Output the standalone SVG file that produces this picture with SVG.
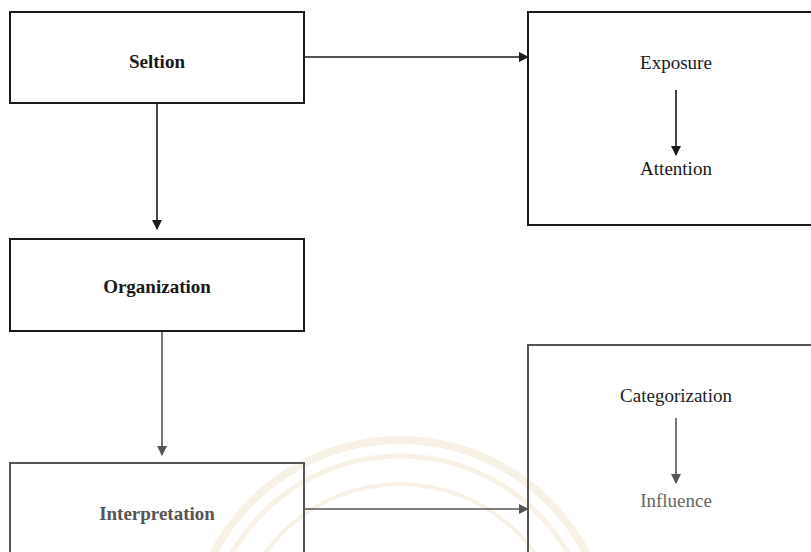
<svg xmlns="http://www.w3.org/2000/svg" width="811" height="552" viewBox="0 0 811 552">
<defs>
<style>
.box{fill:none;stroke:#1a1a1a;stroke-width:2}
.box2{fill:none;stroke:#555;stroke-width:2}
.ln{stroke:#1a1a1a;stroke-width:1.6;fill:none}
.ln2{stroke:#555;stroke-width:1.6;fill:none}
.tb{font-family:"Liberation Serif","Times New Roman",serif;font-weight:bold;font-size:19px;text-anchor:middle;fill:#1a1a1a}
.tr{font-family:"Liberation Serif","Times New Roman",serif;font-size:19px;text-anchor:middle;fill:#1a1a1a}
.wm{fill:none;stroke:#f8f1e5}
</style>
<marker id="ah" markerWidth="10" markerHeight="10" refX="9" refY="5" orient="auto" markerUnits="userSpaceOnUse"><path d="M0,0 L10,5 L0,10 Z" fill="#1a1a1a"/></marker>
<marker id="ah2" markerWidth="10" markerHeight="10" refX="9" refY="5" orient="auto" markerUnits="userSpaceOnUse"><path d="M0,0 L10,5 L0,10 Z" fill="#555"/></marker>
</defs>
<rect width="811" height="552" fill="#fff"/>
<g id="watermark">
<circle class="wm" cx="400" cy="650" r="210" stroke-width="8"/>
<circle class="wm" cx="400" cy="650" r="194" stroke-width="5"/>
<circle class="wm" cx="400" cy="650" r="166" stroke-width="4"/>
</g>
<g id="connectors">
<line class="ln" x1="304" y1="57" x2="528" y2="57" marker-end="url(#ah)"/>
<line class="ln" x1="157" y1="103" x2="157" y2="229" marker-end="url(#ah)"/>
<line class="ln" x1="676" y1="90" x2="676" y2="155" marker-end="url(#ah)"/>
<line class="ln2" x1="162" y1="331" x2="162" y2="455" marker-end="url(#ah2)"/>
<line class="ln2" x1="304" y1="509" x2="528" y2="509" marker-end="url(#ah2)"/>
<line class="ln2" x1="676" y1="418" x2="676" y2="483" marker-end="url(#ah2)"/>
</g>
<g id="selton">
<rect class="box" x="10" y="12" width="294" height="91"/>
<text class="tb" x="157" y="68">Seltion</text>
</g>
<g id="organization">
<rect class="box" x="10" y="239" width="294" height="92"/>
<text class="tb" x="157" y="293">Organization</text>
</g>
<g id="interpretation">
<path class="box2" d="M10,560 V463 H304 V560"/>
<text class="tb" x="157" y="520" style="fill:#555">Interpretation</text>
</g>
<g id="exposure-attention">
<path class="box" d="M820,12 H528 V225 H820"/>
<text class="tr" x="676" y="69">Exposure</text>
<text class="tr" x="676" y="175">Attention</text>
</g>
<g id="categorization-influence">
<path class="box2" d="M820,345 H528 V560"/>
<text class="tr" x="676" y="402" style="fill:#222">Categorization</text>
<text class="tr" x="676" y="507" style="fill:#666">Influence</text>
</g>
</svg>
